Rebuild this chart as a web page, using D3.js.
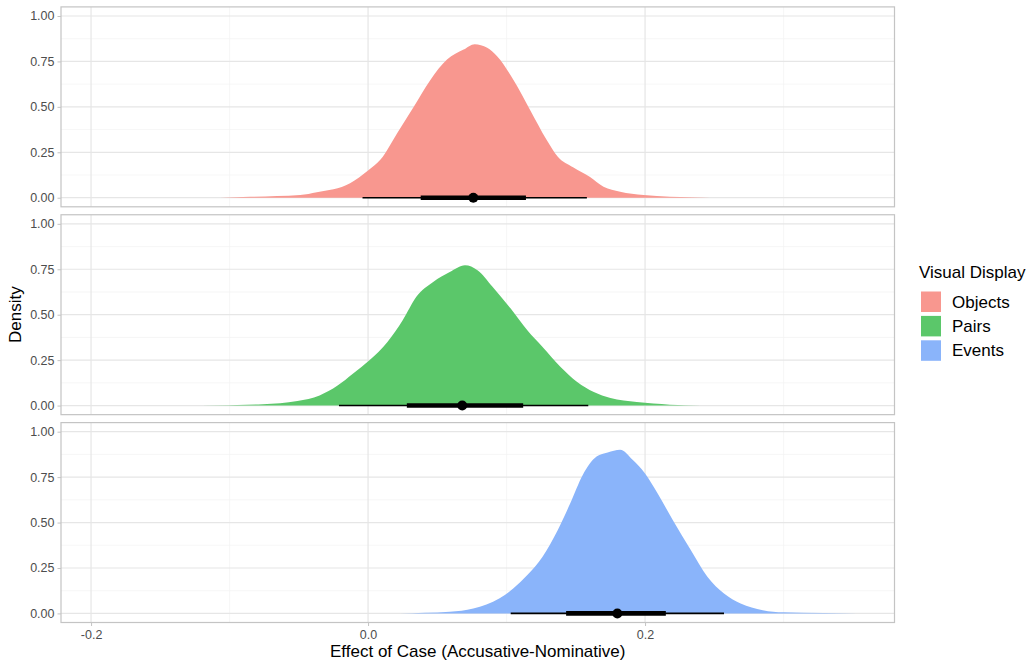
<!DOCTYPE html>
<html>
<head>
<meta charset="utf-8">
<script src="https://cdn.jsdelivr.net/npm/d3@7"></script>
<style>
  body { margin: 0; background: #fff; }
  text { font-family: "Liberation Sans", Arial, sans-serif; }
</style>
</head>
<body>
<svg id="chart" width="1032" height="666"></svg>
<script>
// categories and colours
const groups = ['Objects', 'Pairs', 'Events']
const colors = ['#F8978F', '#5BC76A', '#8AB4FA']

// density curves (x = effect, d = density)
const objectsX = [-0.107, -0.085, -0.049, -0.037, -0.013, 0.000, 0.009, 0.021, 0.033, 0.045, 0.057, 0.069, 0.077, 0.086, 0.093, 0.105, 0.117, 0.129, 0.137, 0.148, 0.160, 0.170, 0.182, 0.199, 0.218, 0.247]
const objectsD = [0, 0.005, 0.015, 0.03, 0.08, 0.15, 0.21, 0.355, 0.50, 0.648, 0.76, 0.815, 0.845, 0.825, 0.78, 0.648, 0.483, 0.318, 0.226, 0.168, 0.115, 0.06, 0.033, 0.015, 0.005, 0]

const pairsX = [-0.121, -0.076, -0.051, -0.035, -0.022, -0.011, 0.001, 0.014, 0.025, 0.035, 0.047, 0.059, 0.070, 0.079, 0.090, 0.103, 0.115, 0.126, 0.139, 0.151, 0.163, 0.175, 0.194, 0.218, 0.240]
const pairsD = [0, 0.007, 0.025, 0.056, 0.11, 0.175, 0.249, 0.35, 0.47, 0.6, 0.68, 0.735, 0.772, 0.745, 0.653, 0.534, 0.414, 0.322, 0.212, 0.129, 0.074, 0.041, 0.019, 0.005, 0]

const eventsX = [0.023, 0.059, 0.076, 0.095, 0.105, 0.115, 0.126, 0.137, 0.146, 0.155, 0.165, 0.173, 0.182, 0.191, 0.200, 0.209, 0.220, 0.233, 0.245, 0.257, 0.269, 0.285, 0.300, 0.329, 0.353]
const eventsD = [0, 0.009, 0.027, 0.083, 0.138, 0.211, 0.312, 0.459, 0.606, 0.762, 0.863, 0.885, 0.9, 0.845, 0.77, 0.661, 0.514, 0.349, 0.202, 0.11, 0.055, 0.018, 0.006, 0.002, 0]

// point intervals: median, 66% and 95%
const medians = [0.076, 0.068, 0.180]
const innerLo = [0.038, 0.028, 0.143]
const innerHi = [0.114, 0.112, 0.215]
const outerLo = [-0.004, -0.021, 0.103]
const outerHi = [0.158, 0.159, 0.257]

// ticks
const xMajor = [-0.2, 0, 0.2]
const xMinor = [-0.1, 0.1, 0.3]
const yMajor = [0, 0.25, 0.5, 0.75, 1]
const yMinor = [0.125, 0.375, 0.625, 0.875]

const curves = [
  objectsX.map((x, i) => ({x: x, d: objectsD[i]})),
  pairsX.map((x, i) => ({x: x, d: pairsD[i]})),
  eventsX.map((x, i) => ({x: x, d: eventsD[i]}))
]

const svg = d3.select('#chart')
const left = 61, right = 894.5
const panelTop = 6.9, panelH = 199.9, gap = 7.95
const font = '"Liberation Sans", Arial, sans-serif'

const x = d3.scaleLinear().domain([-0.2217, 0.3801]).range([left, right])

groups.forEach((g, i) => {
  const top = panelTop + i * (panelH + gap)
  const y = d3.scaleLinear().domain([-0.05, 1.05]).range([top + panelH, top])
  const p = svg.append('g')

  // minor grid
  p.selectAll('.ym').data(yMinor).enter().append('line')
    .attr('x1', left).attr('x2', right)
    .attr('y1', d => y(d)).attr('y2', d => y(d))
    .attr('stroke', '#F2F2F2').attr('stroke-width', 0.7)
  p.selectAll('.xm').data(xMinor).enter().append('line')
    .attr('x1', d => x(d)).attr('x2', d => x(d))
    .attr('y1', top).attr('y2', top + panelH)
    .attr('stroke', '#F2F2F2').attr('stroke-width', 0.7)
  // major grid
  p.selectAll('.yM').data(yMajor).enter().append('line')
    .attr('x1', left).attr('x2', right)
    .attr('y1', d => y(d)).attr('y2', d => y(d))
    .attr('stroke', '#E6E6E6').attr('stroke-width', 1.2)
  p.selectAll('.xM').data(xMajor).enter().append('line')
    .attr('x1', d => x(d)).attr('x2', d => x(d))
    .attr('y1', top).attr('y2', top + panelH)
    .attr('stroke', '#E6E6E6').attr('stroke-width', 1.2)

  // density
  const area = d3.area()
    .x(d => x(d.x))
    .y0(y(0))
    .y1(d => y(d.d))
    .curve(d3.curveMonotoneX)
  p.append('path')
    .attr('d', area(curves[i]))
    .attr('fill', colors[i])

  // intervals
  p.append('line')
    .attr('x1', x(outerLo[i])).attr('x2', x(outerHi[i]))
    .attr('y1', y(0)).attr('y2', y(0))
    .attr('stroke', '#000').attr('stroke-width', 1.6)
  p.append('line')
    .attr('x1', x(innerLo[i])).attr('x2', x(innerHi[i]))
    .attr('y1', y(0)).attr('y2', y(0))
    .attr('stroke', '#000').attr('stroke-width', 4.6)
  p.append('circle')
    .attr('cx', x(medians[i])).attr('cy', y(0)).attr('r', 5)
    .attr('fill', '#000')

  // border
  p.append('rect')
    .attr('x', left).attr('y', top)
    .attr('width', right - left).attr('height', panelH)
    .attr('fill', 'none').attr('stroke', '#C4C4C4').attr('stroke-width', 1.2)

  // y axis
  const ya = p.append('g')
    .attr('transform', `translate(${left},0)`)
    .call(d3.axisLeft(y).tickValues(yMajor).tickFormat(d3.format('.2f')).tickSize(3.5).tickPadding(3))
  ya.select('.domain').remove()
  ya.selectAll('line').attr('stroke', '#C4C4C4')
  ya.selectAll('text').attr('fill', '#4D4D4D').style('font-size', '12.5px')
    .style('font-family', font)

  if (i === groups.length - 1) {
    const xa = p.append('g')
      .attr('transform', `translate(0,${top + panelH})`)
      .call(d3.axisBottom(x).tickValues(xMajor)
        .tickFormat(d => d3.format('.1f')(d).replace('\u2212', '-'))
        .tickSize(3.5).tickPadding(4))
    xa.select('.domain').remove()
    xa.selectAll('line').attr('stroke', '#C4C4C4')
    xa.selectAll('text').attr('fill', '#4D4D4D').style('font-size', '12.5px')
      .style('font-family', font)
  }
})

// axis titles
svg.append('text')
  .attr('x', (left + right) / 2).attr('y', 657)
  .attr('text-anchor', 'middle').style('font-size', '17px')
  .text('Effect of Case (Accusative-Nominative)')
svg.append('text')
  .attr('transform', `translate(21,${panelTop + (3 * panelH + 2 * gap) / 2}) rotate(-90)`)
  .attr('text-anchor', 'middle').style('font-size', '17px')
  .text('Density')

// legend
const legend = svg.append('g').attr('transform', 'translate(919,0)')
legend.append('text').attr('x', 0).attr('y', 278)
  .style('font-size', '17px').text('Visual Display')
groups.forEach((g, i) => {
  legend.append('rect')
    .attr('x', 2).attr('y', 291.5 + i * 24.4)
    .attr('width', 20).attr('height', 20.5)
    .attr('fill', colors[i])
  legend.append('text')
    .attr('x', 33).attr('y', 307.5 + i * 24.4)
    .style('font-size', '17px').text(g)
})
</script>
</body>
</html>
